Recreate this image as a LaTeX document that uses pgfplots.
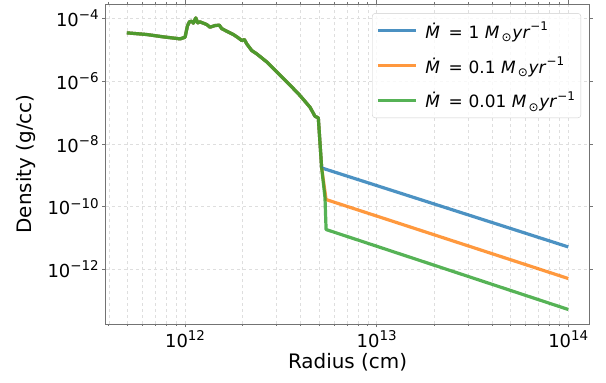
\documentclass[border=0pt]{standalone}
\usepackage{pgfplots}
\pgfplotsset{compat=1.18}
\usepackage{fontspec}
\setmainfont{DejaVu Sans}
\newcommand{\tsup}[1]{\raisebox{0.37em}{\fontsize{13.5}{13.5}\selectfont #1}}
\newcommand{\lsup}[1]{\raisebox{0.45em}{\fontsize{12}{12}\selectfont #1}}
\newcommand{\lsub}[1]{\raisebox{-0.22em}{\fontsize{12}{12}\selectfont #1}}
\newcommand{\mdot}[1]{\textit{Ṁ}\hspace{0.5em}=\hspace{0.35em}#1\hspace{0.33em}\textit{M}\hspace{0.12em}\lsub{⊙}\hspace{0.05em}\textit{yr}\lsup{−1}}
\definecolor{cblue}{HTML}{1F77B4}
\definecolor{corange}{HTML}{FF7F0E}
\definecolor{cgreen}{HTML}{2CA02C}
\pgfplotstableread{
r rho
4.966e11 3.483e-5
6.310e11 3.083e-5
7.709e11 2.594e-5
9.419e11 2.239e-5
1.000e12 2.529e-5
1.028e12 5.675e-5
1.0534e12 7.816e-5
1.0834e12 8.204e-5
1.1053e12 7.079e-5
1.1368e12 1.047e-4
1.1643e12 7.261e-5
1.1975e12 7.816e-5
1.2461e12 7.079e-5
1.2972e12 6.427e-5
1.349e12 5.272e-5
1.434e12 5.970e-5
1.510e12 6.109e-5
1.552e12 4.786e-5
1.648e12 3.936e-5
1.786e12 3.083e-5
1.897e12 2.410e-5
1.977e12 1.982e-5
2.040e12 2.133e-5
2.099e12 1.552e-5
2.228e12 9.506e-6
2.366e12 7.447e-6
2.667e12 4.140e-6
3.133e12 1.552e-6
3.673e12 5.834e-7
3.981e12 3.491e-7
4.487e12 1.483e-7
4.764e12 7.656e-8
4.960e12 6.761e-8
5.164e12 1.714e-9
}\inner
\pgfplotstableread{
r rho
5.164e12 1.714e-9
1e14 5.188e-12
}\windA
\pgfplotstableread{
r rho
5.164e12 1.714e-9
5.445e12 1.683e-10
1e14 5.093e-13
}\windB
\pgfplotstableread{
r rho
5.164e12 1.714e-9
5.374e12 1.905e-10
5.445e12 1.862e-11
1e14 5.248e-14
}\windC
\begin{document}
\begin{tikzpicture}
\begin{axis}[
  at={(0,0)}, anchor=south west, scale only axis,
  width=483.6bp, height=320bp,
  xmode=log, ymode=log,
  xmin=3.855e11, xmax=1.288e14,
  ymin=1.82e-14, ymax=2.92e-4,
  xtick={1e12,1e13,1e14},
  xticklabels={10\tsup{12},10\tsup{13},10\tsup{14}},
  minor xtick={4e11,5e11,6e11,7e11,8e11,9e11,2e12,3e12,4e12,5e12,6e12,7e12,8e12,9e12,2e13,3e13,4e13,5e13,6e13,7e13,8e13,9e13},
  ytick={1e-12,1e-10,1e-8,1e-6,1e-4},
  yticklabels={10\tsup{−12},10\tsup{−10},10\tsup{−8},10\tsup{−6},10\tsup{−4}},
  tick align=outside, major tick length=3.5bp, minor tick length=2bp,
  tick style={black!55, line width=0.8bp},
  axis line style={black!55, line width=0.8bp},
  xmajorgrids, xminorgrids, ymajorgrids,
  grid style={dashed, black!13, line width=0.6bp},
  ticklabel style={font=\fontsize{18}{20}\selectfont},
  label style={font=\fontsize{20}{24}\selectfont},
  xlabel={Radius (cm)}, ylabel={Density (g/cc)},
  xlabel style={at={(axis description cs:0.5,-0.1403)}, anchor=base},
  ylabel style={at={(axis description cs:-0.1532,0.5)}, anchor=base},
  legend cell align=left,
  legend image code/.code={\draw[line width=3.2bp] (0bp,0bp) -- (38bp,0bp);},
  legend style={at={(axis description cs:0.983,0.971)}, anchor=north east,
    draw=black!20, rounded corners=3bp, fill=white, fill opacity=0.8, text opacity=1,
    font=\fontsize{17}{20}\selectfont, row sep=13bp, inner xsep=4bp, inner ysep=6.5bp,
    /tikz/every odd column/.append style={column sep=6bp}},
]
\addplot[cblue, draw opacity=0.8, line width=3.2bp, line join=round] table[x=r,y=rho] {\inner};
\addlegendentry{\mdot{1}}
\addplot[corange, draw opacity=0.8, line width=3.2bp, line join=round] table[x=r,y=rho] {\inner};
\addlegendentry{\mdot{0.1}}
\addplot[cgreen, draw opacity=0.8, line width=3.2bp, line join=round] table[x=r,y=rho] {\inner};
\addlegendentry{\mdot{0.01}}
\addplot[cblue, draw opacity=0.8, line width=3.2bp, line join=round, forget plot] table[x=r,y=rho] {\windA};
\addplot[corange, draw opacity=0.8, line width=3.2bp, line join=round, forget plot] table[x=r,y=rho] {\windB};
\addplot[cgreen, draw opacity=0.8, line width=3.2bp, line join=round, forget plot] table[x=r,y=rho] {\windC};
\end{axis}
\useasboundingbox (-105.7bp,-58.3bp) rectangle (500.3bp,322.7bp);
\end{tikzpicture}
\end{document}
